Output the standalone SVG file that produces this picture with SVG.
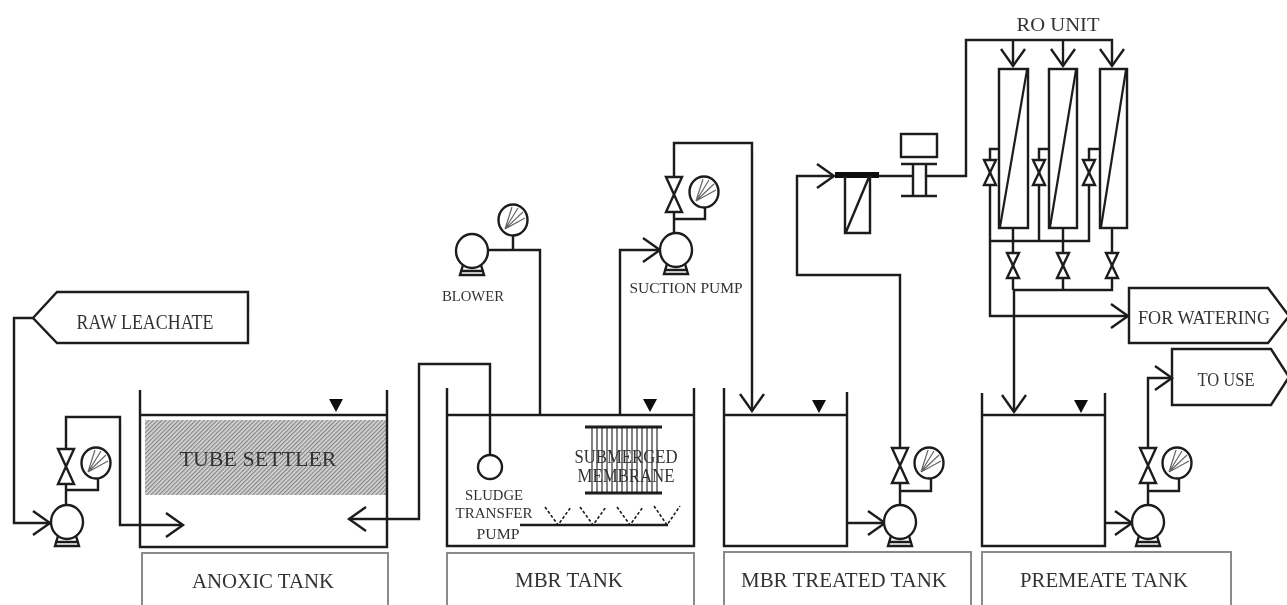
<svg xmlns="http://www.w3.org/2000/svg" width="1287" height="605" viewBox="0 0 1287 605">
<style>
.l{fill:none;stroke:#1c1c1c;stroke-width:2.4;stroke-linejoin:miter}
.t{fill:none;stroke:#1c1c1c;stroke-width:2.2}
.box{fill:none;stroke:#8a8a8a;stroke-width:2}
.w{fill:#fff;stroke:#1c1c1c;stroke-width:2.4}
.thin{fill:none;stroke:#1c1c1c;stroke-width:1.6}
.s{fill:none;stroke:#666;stroke-width:1.2}
text{font-family:"Liberation Serif","Times New Roman",serif;fill:#333;text-anchor:middle;dominant-baseline:central}
.f20{font-size:20px}.f22{font-size:22px}.f18{font-size:18px}.f15{font-size:15px}
</style>
<defs>
<filter id="soft" filterUnits="userSpaceOnUse" x="0" y="0" width="1287" height="605"><feGaussianBlur stdDeviation="0.45"/></filter>
<marker id="a" markerUnits="userSpaceOnUse" markerWidth="24" markerHeight="30" refX="20" refY="15" orient="auto" viewBox="0 0 24 30"><path d="M3,3 L20,15 L3,27" fill="none" stroke="#1c1c1c" stroke-width="2.4"/></marker>
<pattern id="hatch" width="3" height="3" patternUnits="userSpaceOnUse" patternTransform="rotate(-45)"><rect width="3" height="3" fill="#d6d6d6"/><rect width="3" height="1.2" fill="#858585"/></pattern>
<g id="pump"><path d="M-9,14 L-12,24 H12 L9,14 M-12,20 H12" class="l"/><ellipse cx="0" cy="0" rx="16" ry="17" class="w"/></g>
<g id="valve"><path d="M-8,0 H8 L-8,35 H8 Z" class="w"/></g>
<g id="gauge"><ellipse cx="0" cy="0" rx="14.5" ry="15.5" class="w"/><path d="M-8,9 L-1,-13 M-8,9 L5,-12 M-8,9 L10,-8 M-8,9 L12,-2" class="s"/></g>
<g id="svalve"><path d="M-6,0 H6 L-6,25 H6 Z" class="w"/></g>
</defs>
<rect width="1287" height="605" fill="#fff"/>
<g filter="url(#soft)">
<g id="connectors">
<path class="l" d="M33,318 H14 V523 H50" marker-end="url(#a)"/>
<path class="l" d="M66,449 V417 H120 V525 H183" marker-end="url(#a)"/>
<path class="l" d="M66,484 V505 M66,490 H98 V478"/>
<path class="l" d="M490,455 V364 H419 V519 H349" marker-end="url(#a)"/>
<path class="l" d="M488,250 H540 V415 M513,235 V250"/>
<path class="l" d="M620,415 V250 H660" marker-end="url(#a)"/>
<path class="l" d="M674,177 V143 H752 V411" marker-end="url(#a)"/>
<path class="l" d="M674,212 V232 M674,219 H705 V207"/>
<path class="l" d="M847,523 H885" marker-end="url(#a)"/>
<path class="l" d="M900,448 V275 H797 V176 H834" marker-end="url(#a)"/>
<path class="l" d="M900,483 V505 M900,491 H931 V478"/>
<path class="l" d="M1105,523 H1132" marker-end="url(#a)"/>
<path class="l" d="M1148,448 V378 H1172" marker-end="url(#a)"/>
<path class="l" d="M1148,483 V505 M1148,491 H1179 V478"/>
<path class="l" d="M879,176 H913 M926,176 H966 V40 H1112 V66" marker-end="url(#a)"/>
<path class="l" d="M1013,40 V66" marker-end="url(#a)"/>
<path class="l" d="M1063,40 V66" marker-end="url(#a)"/>
<path class="l" d="M1000,149 H990 V316 H1128" marker-end="url(#a)"/>
<path class="l" d="M1049,149 H1039 V241 M1100,149 H1089 V241 H990"/>
<path class="l" d="M1013,228 V290 M1063,228 V290 M1112,228 V290 H1014"/>
<path class="l" d="M1014,290 V412" marker-end="url(#a)"/>
</g>
<g id="raw-leachate"><path class="l" d="M33,318 L57,292 H248 V343 H57 Z"/><text class="f20" x="145" y="322" textLength="137" lengthAdjust="spacingAndGlyphs">RAW LEACHATE</text></g>
<g id="anoxic-tank">
<rect x="145" y="420" width="242" height="75" fill="url(#hatch)"/>
<path class="l" d="M140,390 V547 H387 V390 M140,415 H387"/>
<path d="M329,399 H343 L336,412 Z" fill="#111"/>
<text class="f22" x="258" y="458" textLength="157" lengthAdjust="spacingAndGlyphs">TUBE SETTLER</text>
</g>
<g id="anoxic-label"><path class="box" d="M142,605 V553 H388 V605"/><text class="f20" x="263" y="581" textLength="142" lengthAdjust="spacingAndGlyphs">ANOXIC TANK</text></g>
<g id="feed-pump"><use href="#pump" x="67" y="522"/><use href="#valve" x="66" y="449"/><use href="#gauge" x="96" y="463"/></g>
<g id="mbr-tank">
<path class="l" d="M447,388 V546 H694 V388 M447,415 H694"/>
<path d="M643,399 H657 L650,412 Z" fill="#111"/>
</g>
<g id="mbr-label"><path class="box" d="M447,605 V553 H694 V605"/><text class="f20" x="569" y="580" textLength="108" lengthAdjust="spacingAndGlyphs">MBR TANK</text></g>
<g id="blower"><use href="#pump" x="472" y="251"/><use href="#gauge" x="513" y="220"/><text class="f15" x="473" y="296" textLength="62" lengthAdjust="spacingAndGlyphs">BLOWER</text></g>
<g id="suction-pump"><use href="#pump" x="676" y="250"/><use href="#valve" x="674" y="177"/><use href="#gauge" x="704" y="192"/><text class="f15" x="686" y="288" textLength="113" lengthAdjust="spacingAndGlyphs">SUCTION PUMP</text></g>
<g id="sludge-pump">
<circle cx="490" cy="467" r="12" class="w"/>
<text class="f15" x="494" y="495" textLength="58" lengthAdjust="spacingAndGlyphs">SLUDGE</text>
<text class="f15" x="494" y="513" textLength="77" lengthAdjust="spacingAndGlyphs">TRANSFER</text>
<text class="f15" x="498" y="534" textLength="43" lengthAdjust="spacingAndGlyphs">PUMP</text>
</g>
<g id="membrane">
<path class="thin" d="M592,427 V493 M597,427 V493 M602,427 V493 M607,427 V493 M612,427 V493 M617,427 V493 M622,427 V493 M627,427 V493 M632,427 V493 M637,427 V493 M642,427 V493 M647,427 V493 M652,427 V493 M657,427 V493" stroke-opacity=".7"/>
<path d="M585,427 H662 M585,493 H662" fill="none" stroke="#1c1c1c" stroke-width="3"/>
<text class="f18" x="626" y="457" textLength="103" lengthAdjust="spacingAndGlyphs">SUBMERGED</text>
<text class="f18" x="626" y="476" textLength="97" lengthAdjust="spacingAndGlyphs">MEMBRANE</text>
</g>
<g id="diffuser">
<path class="l" d="M520,525 H668"/>
<path class="thin" stroke-dasharray="3 2" d="M545,507 L558,525 L571,507 M580,507 L593,525 L606,507 M617,507 L630,525 L643,507 M654,506 L667,525 L680,506"/>
</g>
<g id="treated-tank">
<path class="l" d="M724,388 V546 H847 V392 M724,415 H847"/>
<path d="M812,400 H826 L819,413 Z" fill="#111"/>
</g>
<g id="treated-label"><path class="box" d="M724,605 V552 H971 V605"/><text class="f20" x="844" y="580" textLength="206" lengthAdjust="spacingAndGlyphs">MBR TREATED TANK</text></g>
<g id="treated-pump"><use href="#pump" x="900" y="522"/><use href="#valve" x="900" y="448"/><use href="#gauge" x="929" y="463"/></g>
<g id="premeate-tank">
<path class="l" d="M982,393 V546 H1105 V393 M982,415 H1105"/>
<path d="M1074,400 H1088 L1081,413 Z" fill="#111"/>
</g>
<g id="premeate-label"><path class="box" d="M982,605 V552 H1231 V605"/><text class="f20" x="1104" y="580" textLength="168" lengthAdjust="spacingAndGlyphs">PREMEATE TANK</text></g>
<g id="premeate-pump"><use href="#pump" x="1148" y="522"/><use href="#valve" x="1148" y="448"/><use href="#gauge" x="1177" y="463"/></g>
<g id="filter">
<path d="M835,175 H879" stroke="#111" stroke-width="6" fill="none"/>
<path class="l" d="M845,176 V233 H870 V176 M846,232 L869,177"/>
</g>
<g id="flow-meter">
<rect x="901" y="134" width="36" height="23" class="l"/>
<path class="l" d="M901,164 H937 M901,196 H937 M913,164 V196 M926,164 V196"/>
</g>
<g id="ro-unit">
<text class="f18" x="1058" y="25" textLength="83" lengthAdjust="spacingAndGlyphs">RO UNIT</text>
<rect x="999" y="69" width="29" height="159" class="l"/><path class="t" d="M1000,227 L1027,70"/>
<rect x="1049" y="69" width="28" height="159" class="l"/><path class="t" d="M1050,227 L1076,70"/>
<rect x="1100" y="69" width="27" height="159" class="l"/><path class="t" d="M1101,227 L1126,70"/>
<use href="#svalve" x="990" y="160"/><use href="#svalve" x="1039" y="160"/><use href="#svalve" x="1089" y="160"/>
<use href="#svalve" x="1013" y="253"/><use href="#svalve" x="1063" y="253"/><use href="#svalve" x="1112" y="253"/>
</g>
<g id="for-watering"><path class="l" d="M1129,343 V288 H1268 L1289,316 L1268,343 Z"/><text class="f18" x="1204" y="318" textLength="132" lengthAdjust="spacingAndGlyphs">FOR WATERING</text></g>
<g id="to-use"><path class="l" d="M1172,349 H1271 L1289,377 L1271,405 H1172 Z"/><text class="f18" x="1226" y="380" textLength="57" lengthAdjust="spacingAndGlyphs">TO USE</text></g>
</g>
</svg>
